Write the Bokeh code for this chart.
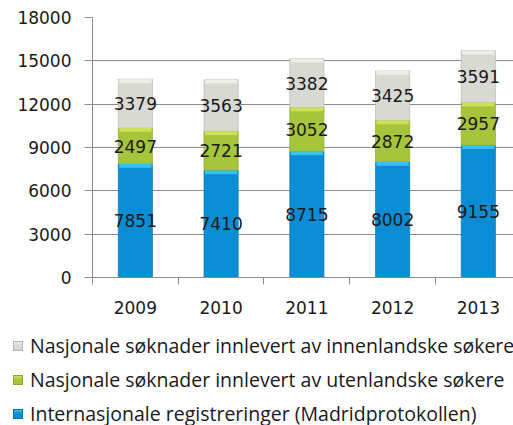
from bokeh.plotting import figure
from bokeh.models import ColumnDataSource, FixedTicker, LabelSet, Range1d, Div
from bokeh.core.properties import value
from bokeh.layouts import column
from bokeh.embed import file_html
from bokeh.resources import INLINE

years = ["2009", "2010", "2011", "2012", "2013"]
madrid = [7851, 7410, 8715, 8002, 9155]
utenlandske = [2497, 2721, 3052, 2872, 2957]
innenlandske = [3379, 3563, 3382, 3425, 3591]
y_ticks = [0, 3000, 6000, 9000, 12000, 15000, 18000]
series_names = [
    "Nasjonale søknader innlevert av innenlandske søkere",
    "Nasjonale søknader innlevert av utenlandske søkere",
    "Internasjonale registreringer (Madridprotokollen)",
]
fill = {"madrid": "#0A8DD5", "uten": "#A6C53A", "innen": "#D9D9D3"}
edge = {"madrid": "#0874B0", "uten": "#8AA52C", "innen": "#B5B5AE"}
shine = {"madrid": "#3AC0EE", "uten": "#CDE257", "innen": "#EFEFEA"}

xs = list(range(1, len(years) + 1))
b1 = [0] * len(xs)
t1 = madrid
b2 = t1
t2 = [a + b for a, b in zip(t1, utenlandske)]
b3 = t2
t3 = [a + b for a, b in zip(t2, innenlandske)]
SHINE = 260  # thickness of the lighter top band of each segment, in data units

src = ColumnDataSource(dict(
    x=xs, b1=b1, t1=t1, b2=b2, t2=t2, b3=b3, t3=t3,
    s1=[t - SHINE for t in t1], s2=[t - SHINE for t in t2], s3=[t - SHINE for t in t3],
    m1=[(a + b) / 2 for a, b in zip(b1, t1)],
    m2=[(a + b) / 2 for a, b in zip(b2, t2)],
    m3=[(a + b) / 2 for a, b in zip(b3, t3)],
    l1=[str(v) for v in madrid],
    l2=[str(v) for v in utenlandske],
    l3=[str(v) for v in innenlandske],
))

p = figure(width=513, frame_width=421, frame_height=260, output_backend="svg", toolbar_location=None,
           x_range=Range1d(0.5, 5.41), y_range=Range1d(0, 18000),
           min_border_left=92, min_border_right=0, min_border_top=17, min_border_bottom=48)
p.outline_line_color = None
p.background_fill_color = "white"

BW = 0.4
r1 = p.vbar(x="x", bottom="b1", top="t1", width=BW, source=src,
            fill_color=fill["madrid"], line_color=edge["madrid"], line_width=0.6)
r2 = p.vbar(x="x", bottom="b2", top="t2", width=BW, source=src,
            fill_color=fill["uten"], line_color=edge["uten"], line_width=0.6)
r3 = p.vbar(x="x", bottom="b3", top="t3", width=BW, source=src,
            fill_color=fill["innen"], line_color=edge["innen"], line_width=0.6)
for key, top, sh in (("madrid", "t1", "s1"), ("uten", "t2", "s2"), ("innen", "t3", "s3")):
    p.vbar(x="x", bottom=sh, top=top, width=BW * 0.94, source=src,
           fill_color=shine[key], line_color=None)

for m, l in (("m1", "l1"), ("m2", "l2"), ("m3", "l3")):
    p.add_layout(LabelSet(x="x", y=m, text=l, source=src, text_align="center",
                          text_baseline="middle", text_font=value("DejaVu Sans"),
                          text_font_size="17px", text_color="#1a1a1a"))

# y axis
p.yaxis.ticker = FixedTicker(ticks=y_ticks, minor_ticks=[])
p.yaxis.axis_line_color = "#8C8C8C"
p.yaxis.major_tick_line_color = "#8C8C8C"
p.yaxis.major_tick_out = 8
p.yaxis.major_tick_in = 0
p.yaxis.major_label_standoff = 13
p.yaxis.major_label_text_font = "DejaVu Sans"
p.yaxis.major_label_text_font_size = "17px"
p.yaxis.major_label_text_color = "#1a1a1a"

# x axis
p.xaxis.ticker = FixedTicker(ticks=xs, minor_ticks=[x + 0.5 for x in xs[:-1]] + [0.5])
p.xaxis.major_label_overrides = {x: y for x, y in zip(xs, years)}
p.xaxis.axis_line_color = "#8C8C8C"
p.xaxis.major_tick_line_color = None
p.xaxis.minor_tick_line_color = "#8C8C8C"
p.xaxis.minor_tick_out = 7
p.xaxis.minor_tick_in = 0
p.xaxis.major_label_standoff = 16
p.xaxis.major_label_text_font = "DejaVu Sans"
p.xaxis.major_label_text_font_size = "17px"
p.xaxis.major_label_text_color = "#1a1a1a"

p.xgrid.grid_line_color = None
p.ygrid.ticker = FixedTicker(ticks=y_ticks)
p.ygrid.grid_line_color = "#8C8C8C"
p.ygrid.grid_line_width = 1

# legend strip under the chart (grey, green, blue order as in the original)
legend_keys = ["innen", "uten", "madrid"]
rows = []
for name, key in zip(series_names, legend_keys):
    rows.append(
        '<div style="height:34px;line-height:34px;white-space:nowrap;">'
        f'<span style="display:inline-block;width:10px;height:10px;border:1px solid {edge[key]};'
        f'background:linear-gradient({shine[key]}, {fill[key]} 45%);vertical-align:middle;'
        'margin-left:13px;margin-right:7px;"></span>'
        f'<span style="vertical-align:middle;">{name}</span></div>'
    )
lg = Div(text="".join(rows), width=513, height=100,
         styles={"font-family": "Open Sans", "font-size": "19.5px", "color": "#1a1a1a",
                 "padding-top": "2px", "margin": "0"})

open("out.html", "w").write(file_html(column(p, lg, spacing=0), INLINE))
